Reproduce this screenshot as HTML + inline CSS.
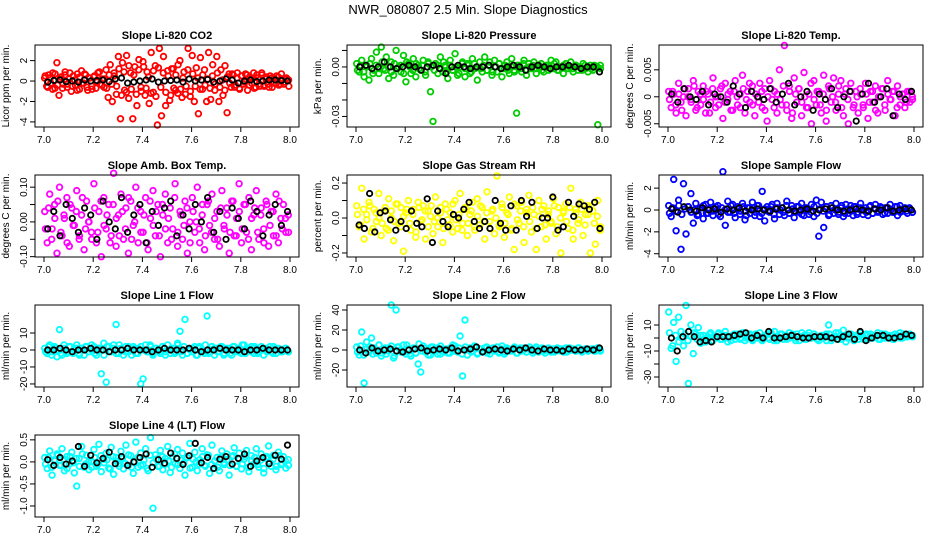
<!DOCTYPE html>
<html><head><meta charset="utf-8">
<style>
html,body{margin:0;padding:0;background:#fff;}
svg{display:block;font-family:"Liberation Sans",Arial,sans-serif;}
</style></head>
<body>
<svg id="chart" width="936" height="540" viewBox="0 0 936 540">
<text x="468" y="14" text-anchor="middle" font-size="13">NWR_080807  2.5 Min. Slope Diagnostics</text>
</svg>
<script>
// ---- data ----
const xTicks = [7.0, 7.2, 7.4, 7.6, 7.8, 8.0];
const xTickLabels = ["7.0","7.2","7.4","7.6","7.8","8.0"];
const xMin = 7.0, xMax = 8.0;

const co2Vals = [0.3,-0.5,0.6,-0.2,0.8,-0.7,1.8,-1.4,0.4,-0.3,0.9,-0.6,0.2,-1.0,0.5,-0.4,0.7,-0.8,1.0,-0.2,0.6,-0.9,0.3,-0.5,0.4,-0.7,0.8,-0.3,0.2,-0.6,
1.1,-1.6,1.6,-2.0,0.5,-1.3,2.4,-3.7,1.8,-0.9,2.5,-1.7,0.8,-3.7,1.4,-2.4,2.1,-0.6,1.9,-1.4,0.9,-2.2,2.8,-1.1,1.5,-4.3,3.2,-3.4,2.4,-2.4,1.0,-1.9,1.2,-0.7,0.6,-1.2,2.0,-1.6,0.9,-0.5,3.2,-1.5,2.5,-2.0,1.3,-3.2,2.3,-0.8,1.1,-2.0,
2.8,-1.8,1.6,-0.9,2.4,-2.0,1.1,-1.4,1.5,-3.1,0.7,-0.6,0.6,-0.4,0.8,-0.7,0.5,-0.3,0.7,-0.9,0.4,-0.2,0.8,-0.6,0.3,-0.5,0.6,-0.4,0.2,-0.3,0.5,-0.6,0.3,-0.2,0.4,-0.3,0.2,-0.1,0.3,0.1];
const co2Band = [0.5,-0.6,0.3,-0.8,0.7,-0.4,0.2,-0.7,0.6,-0.3,0.8,-0.5,0.1,-0.9,0.4,-0.2,0.7,-0.6,0.3,-0.8,0.5,-0.1,0.9,-0.4,0.2,-0.7,0.6,-0.3,0.8,-0.5,
1.2,-1.4,0.9,-1.1,1.5,-0.8,0.6,-1.3,1.1,-1.0,1.4,-0.7,0.4,-1.2,1.0,-1.5,1.3,-0.6,0.8,-1.1,0.5,-1.4,1.2,-0.9,1.6,-0.8,0.3,-1.3,1.1,-1.0,
0.7,-0.5,0.3,-0.8,0.6,-0.4,0.2,-0.7,0.5,-0.3,0.8,-0.6,0.1,-0.9,0.4,-0.2,0.7,-0.6,0.3,-0.8,0.5,-0.1,0.6,-0.4,0.2,-0.7,0.6,-0.3,0.8,-0.5,0.4,-0.6,0.3,-0.2,0.5,-0.4,0.7,-0.3,0.2,-0.5];
const co2Black = [-0.1,0.05,0.1,-0.05,0.0,-0.1,0.1,0.0,0.05,0.1,-0.05,0.2,0.3,-0.2,-0.1,0.0,0.1,0.2,-0.1,0.0,0.05,0.1,-0.1,0.2,0.0,0.1,0.15,-0.1,0.0,0.2,0.1,-0.2,0.0,0.1,-0.05,0.0,0.1,0.1,0.05,0.0];

const presVals = [0.002,-0.003,0.004,-0.006,0.001,-0.008,0.005,-0.002,0.009,-0.004,0.012,-0.001,0.006,-0.007,0.003,-0.005,0.010,0.000,-0.003,0.007,-0.009,0.002,-0.004,0.005,-0.006,0.001,-0.002,0.004,-0.005,0.003,-0.015,-0.033,0.002,-0.004,0.006,-0.003,0.001,-0.007,0.004,-0.002,0.008,-0.005,0.000,0.003,-0.006,0.002,-0.004,0.005,-0.001,-0.008,0.003,-0.003,0.006,-0.002,0.001,-0.005,0.004,-0.003,0.002,-0.006,-0.001,0.003,-0.004,0.005,-0.002,-0.028,0.001,-0.003,0.004,-0.005,0.002,-0.001,0.003,-0.004,0.000,0.002,-0.003,0.001,-0.002,0.004,-0.001,0.003,-0.002,0.000,-0.004,0.002,-0.001,0.003,-0.003,0.001,-0.002,0.000,0.002,-0.001,-0.003,0.001,-0.002,0.000,-0.035,0.001];
const presBand = [-0.002,0.001,-0.003,0.000,0.002,-0.004,0.001,-0.001,0.003,-0.002,0.000,-0.003,0.002,-0.001,0.001,-0.004,0.003,0.000,-0.002,0.002,-0.001,0.001,-0.003,0.002,0.000,-0.002,0.001,-0.001,0.003,-0.003,0.001,-0.002,0.000,-0.004,0.002,-0.001,0.001,-0.003,0.002,0.000,-0.001,0.001,-0.002,0.003,-0.003,0.000,0.002,-0.001,0.001,-0.002,0.000,-0.003,0.001,-0.001,0.002,-0.002,0.000,0.001,-0.001,0.001,-0.002,0.000,0.001,-0.001,0.002,-0.002,0.000,0.001,-0.001,0.000,-0.001,0.001,0.000,-0.002,0.001,0.000,-0.001,0.001,0.000,-0.001];
const presBlack = [0.000,0.001,-0.001,0.000,0.003,0.000,-0.001,0.000,0.001,0.000,-0.002,0.000,0.001,-0.001,-0.004,0.000,0.001,0.000,-0.001,0.000,0.000,0.001,0.000,-0.001,0.000,0.001,0.000,-0.002,0.000,0.001,0.000,-0.001,0.000,0.000,0.001,0.000,-0.001,0.000,0.000,-0.003];

const tempVals = [0.0010,-0.0020,0.0005,-0.0030,0.0025,-0.0010,0.0000,-0.0035,0.0015,-0.0005,0.0030,-0.0025,0.0010,-0.0015,0.0020,-0.0030,0.0005,-0.0010,0.0035,-0.0020,0.0000,0.0015,-0.0040,0.0025,-0.0005,0.0010,-0.0025,0.0030,-0.0015,0.0005,0.0040,-0.0030,0.0010,-0.0010,0.0020,-0.0035,0.0000,0.0025,-0.0020,0.0015,-0.0045,0.0030,-0.0005,0.0010,-0.0030,0.0050,-0.0015,0.0095,-0.0025,0.0020,-0.0040,0.0035,-0.0010,0.0015,-0.0035,0.0045,-0.0020,0.0005,-0.0050,0.0030,-0.0015,0.0010,-0.0030,0.0040,-0.0045,0.0020,-0.0010,0.0035,-0.0025,0.0005,0.0030,-0.0035,0.0015,-0.0050,0.0025,-0.0020,0.0010,-0.0030,0.0005,-0.0015,0.0025,-0.0040,0.0010,-0.0010,0.0020,-0.0030,0.0000,0.0015,-0.0025,0.0030,-0.0005,0.0010,-0.0035,0.0020,-0.0015,0.0005,-0.0020,0.0010,-0.0010,0.0000];
const tempBand = [-0.0005,0.0010,-0.0015,0.0005,-0.0025,0.0015,0.0000,-0.0010,0.0020,-0.0020,0.0005,-0.0005,0.0010,-0.0030,0.0015,0.0000,-0.0015,0.0020,-0.0010,0.0005,-0.0025,0.0010,0.0000,-0.0020,0.0015,-0.0005,0.0025,-0.0015,0.0005,-0.0010,0.0010,-0.0025,0.0000,0.0015,-0.0020,0.0005,-0.0005,0.0020,-0.0015,0.0010,-0.0030,0.0005,0.0015,-0.0010,0.0000,-0.0020,0.0025,-0.0005,0.0010,-0.0015,0.0005,-0.0025,0.0015,0.0000,-0.0010,0.0020,-0.0020,0.0005,-0.0005,0.0010,-0.0015,0.0000,0.0015,-0.0020,0.0005,-0.0010,0.0010,-0.0025,0.0000,0.0015,-0.0015,0.0005,-0.0005,0.0010,-0.0020,0.0000,0.0005,-0.0010,0.0010,-0.0005];
const tempBlack = [0.0005,-0.0010,0.0015,0.0000,-0.0005,0.0010,-0.0015,0.0005,0.0000,-0.0010,0.0020,0.0005,-0.0020,0.0010,0.0000,-0.0005,0.0015,-0.0010,0.0005,0.0025,-0.0015,0.0000,0.0010,-0.0025,0.0005,-0.0005,0.0015,-0.0020,0.0000,0.0010,-0.0045,0.0005,0.0025,-0.0010,0.0000,0.0015,-0.0035,0.0005,-0.0005,0.0010];

const ambVals = [0.03,-0.06,0.08,-0.02,0.05,-0.09,0.10,-0.04,0.01,0.07,-0.07,0.04,-0.01,0.09,-0.05,0.02,-0.08,0.06,0.00,-0.03,0.11,-0.06,0.03,-0.10,0.07,-0.02,0.05,-0.04,0.14,-0.07,0.02,0.08,-0.05,0.04,-0.09,0.06,-0.01,0.10,-0.06,0.03,-0.03,0.07,-0.08,0.01,0.09,-0.04,0.05,-0.10,0.02,0.08,-0.06,0.04,-0.02,0.11,-0.07,0.03,-0.05,0.06,-0.09,0.00,0.07,-0.03,0.10,-0.06,0.02,-0.08,0.05,-0.01,0.08,-0.05,0.03,-0.07,0.09,-0.02,0.04,-0.09,0.06,-0.04,0.01,0.11,-0.06,0.05,-0.03,0.07,-0.08,0.02,0.09,-0.05,0.04,-0.02,0.06,-0.07,0.03,-0.04,0.08,-0.06,0.01,0.05,-0.03,0.02];
const ambBand = [-0.02,0.04,-0.05,0.01,0.06,-0.03,0.02,-0.06,0.05,-0.01,0.03,-0.04,0.07,-0.02,0.00,-0.05,0.04,-0.03,0.06,-0.01,0.02,-0.06,0.05,0.01,-0.04,0.03,-0.02,0.07,-0.05,0.00,0.04,-0.03,0.02,-0.06,0.06,-0.01,0.03,-0.04,0.05,-0.02,0.01,-0.05,0.07,-0.03,0.02,-0.01,0.04,-0.06,0.03,0.00,-0.02,0.05,-0.04,0.06,-0.03,0.01,-0.05,0.04,-0.01,0.02,-0.03,0.06,-0.04,0.03,-0.02,0.05,-0.05,0.01,0.04,-0.03,0.02,-0.06,0.05,-0.01,0.03,-0.04,0.06,-0.02,0.01,-0.03];
const ambBlack = [-0.02,0.03,-0.04,0.05,0.01,-0.03,0.04,0.02,-0.05,0.06,0.00,-0.02,0.07,-0.03,0.02,0.05,-0.06,0.03,-0.01,0.04,0.06,-0.04,0.02,-0.02,0.05,0.00,0.07,-0.03,0.03,-0.05,0.04,0.01,-0.02,0.06,0.03,-0.04,0.02,0.05,-0.01,0.03];

const rhVals = [0.07,-0.05,0.17,-0.12,0.02,0.09,-0.08,0.05,-0.02,0.14,-0.10,0.04,-0.06,0.11,0.00,-0.13,0.08,-0.03,0.06,-0.19,0.03,0.10,-0.07,0.05,-0.11,0.09,-0.02,0.07,-0.12,0.04,0.01,-0.09,0.12,-0.05,0.06,-0.14,0.08,-0.01,0.03,-0.08,0.10,-0.06,0.14,-0.03,0.05,-0.10,0.02,0.09,-0.07,0.11,-0.04,0.06,-0.12,0.15,-0.02,0.04,-0.09,0.24,-0.05,0.08,-0.11,0.03,0.12,-0.06,-0.18,0.07,-0.03,0.09,-0.14,0.05,0.13,-0.08,0.02,-0.18,0.10,-0.05,0.07,-0.12,0.04,-0.02,0.11,-0.09,0.06,-0.20,0.03,0.08,-0.06,0.17,-0.12,0.05,-0.03,0.09,-0.10,0.02,0.07,-0.20,0.04,-0.15,0.10,-0.07];
const rhBand = [0.02,-0.04,0.05,-0.01,0.07,-0.06,0.03,0.00,-0.03,0.06,-0.07,0.04,-0.02,0.08,-0.05,0.01,0.05,-0.03,0.02,-0.08,0.06,-0.01,0.04,-0.05,0.07,-0.02,0.00,0.03,-0.06,0.05,-0.04,0.08,-0.01,0.02,-0.07,0.06,-0.03,0.04,-0.05,0.01,0.07,-0.02,0.03,-0.06,0.05,0.00,-0.04,0.06,-0.03,0.02,-0.07,0.08,-0.01,0.04,-0.05,0.03,-0.02,0.06,-0.06,0.01,0.05,-0.04,0.02,-0.03,0.07,-0.05,0.00,0.04,-0.02,0.06,-0.07,0.03,-0.01,0.05,-0.04,0.02,0.07,-0.03,0.01,-0.05];
const rhBlack = [-0.04,-0.06,0.14,-0.08,0.03,0.04,-0.01,-0.07,-0.02,-0.06,0.04,-0.03,-0.05,0.11,-0.14,0.04,-0.02,-0.05,0.02,0.00,0.05,0.09,-0.02,-0.06,-0.02,-0.06,0.10,-0.03,-0.07,0.07,-0.07,0.10,0.01,0.09,-0.06,0.00,0.00,0.12,-0.07,-0.05,0.09,0.01,0.08,0.07,0.05,0.09,-0.06];

const sfVals = [0.4,-0.6,2.8,-1.9,0.9,-3.6,2.4,-2.2,0.3,1.5,-1.2,0.6,-0.4,0.2,-0.8,0.5,-0.3,0.7,-0.5,0.1,0.4,-0.6,3.5,-1.4,0.8,-0.2,0.5,-0.7,0.3,-0.4,0.6,-0.9,0.2,-0.3,0.7,-0.5,0.4,-0.6,1.7,-1.0,0.3,-0.2,0.5,-0.8,0.6,-0.4,0.2,-0.5,0.8,-0.3,0.4,-0.7,0.3,-0.2,0.6,-0.5,0.2,-0.4,0.5,-0.6,0.9,-2.4,0.7,-1.6,0.3,-0.5,0.4,-0.3,0.6,-0.4,0.2,-0.6,0.5,-0.3,0.4,-0.5,0.3,-0.2,0.6,-0.4,0.2,-0.5,0.4,-0.3,0.5,-0.2,0.3,-0.4,0.2,-0.3,0.5,-0.2,0.3,-0.5,0.4,-0.1,0.2,-0.3,0.1,-0.2];
const sfBand = [-0.3,0.2,-0.1,0.4,-0.4,0.1,0.3,-0.2,0.0,-0.5,0.2,0.4,-0.3,0.1,-0.1,0.3,-0.4,0.2,0.0,-0.2,0.4,-0.3,0.1,-0.1,0.3,-0.5,0.2,0.0,-0.2,0.4,-0.3,0.1,-0.1,0.3,-0.4,0.2,0.0,-0.2,0.4,-0.3,0.1,-0.1,0.3,-0.4,0.2,0.0,-0.2,0.3,-0.3,0.1,-0.1,0.3,-0.4,0.2,0.0,-0.2,0.4,-0.3,0.1,-0.1,0.3,-0.4,0.2,0.0,-0.2,0.3,-0.3,0.1,-0.1,0.2,-0.3,0.2,0.0,-0.2,0.3,-0.2,0.1,-0.1,0.2,-0.2];
const sfBlack = [0.1,-0.2,0.3,0.0,-0.1,0.2,0.0,0.1,-0.2,0.1,0.0,0.2,-0.1,0.0,0.1,0.0,-0.1,0.1,0.2,0.0,-0.1,0.0,0.1,-0.1,0.0,0.1,0.2,0.0,-0.1,0.0,0.1,0.0,-0.1,0.1,0.0,0.2,-0.1,0.0,0.1,0.0];

const l1Vals = [1,-2,3,-1,2,-4,12,-3,1,-2,2,-1,0,3,-2,1,-3,2,-1,0,2,-3,1,-14,4,-19,2,-1,3,15,-2,1,-3,2,-1,0,2,-2,1,-20,-17,3,-1,2,-3,1,0,-2,2,-1,3,-2,1,-1,4,11,-3,18,-2,1,-1,2,-3,1,0,-2,20,-1,2,-3,1,-1,2,-2,0,1,-3,2,-1,1,-2,3,-1,0,2,-2,1,-1,2,-3,1,0,-1,2,-2,1,-1,0,1,-1];
const l1Band = [-1,2,-3,1,0,-2,3,-1,2,-2,1,-3,0,2,-1,3,-2,1,0,-3,2,-1,1,-2,3,0,-1,2,-3,1,-2,2,0,-1,3,-2,1,-1,2,-3,0,1,-2,3,-1,2,-2,0,1,-3,2,-1,3,-2,0,1,-1,2,-3,1,-2,2,0,-1,3,-2,1,-1,2,-2,0,1,-1,2,-2,1,0,-1,1,-1];
const l1Black = [0,0,1,0,-1,0,0,1,0,0,-1,0,0,1,0,0,0,-1,0,1,0,0,0,1,0,-1,0,0,1,0,0,0,-1,0,0,1,0,0,0,0];

const l2Vals = [3,-5,18,-33,8,-2,12,2,-3,5,-6,1,-4,2,45,-8,40,3,-2,5,-4,1,-6,2,-3,-14,-22,4,-2,1,-5,3,-1,2,-4,1,0,-3,2,-1,4,-2,14,-26,30,-5,2,-1,3,-4,1,-2,2,-3,1,0,-1,3,-2,1,-4,2,-1,0,2,-3,1,-1,2,-2,1,0,-1,3,-2,1,-1,0,2,-2,1,-1,0,1,-2,2,-1,0,1,-1,2,-1,0,1,-1,0,1,-1,2,0];
const l2Band = [-2,4,-5,1,3,-4,0,5,-3,2,-1,4,-6,3,0,-2,5,-4,1,-3,6,-1,2,-5,3,0,-4,4,-2,1,-3,5,-1,2,-4,3,0,-2,4,-3,1,-1,3,-4,2,0,-3,4,-2,1,-1,3,-3,2,0,-2,3,-3,1,-1,2,-3,1,0,-2,2,-1,1,-2,2,0,-1,2,-2,1,-1,1,-1,2,-1];
const l2Black = [0,-3,2,-1,0,1,-1,-2,0,1,2,-1,0,1,0,2,-1,0,1,3,-2,0,1,0,-1,1,0,2,0,-1,1,0,0,-1,1,0,0,1,0,2];

const l3Vals = [20,-8,12,-18,16,5,-6,25,-35,10,-12,3,8,-4,2,-3,1,4,-2,0,3,-1,2,5,-3,1,2,-1,3,0,4,-2,1,3,-1,2,0,4,-2,1,3,-1,2,5,-2,0,3,1,-1,4,2,0,3,-2,1,2,-1,4,0,3,1,-2,2,0,3,10,-2,1,4,-1,2,6,-3,1,3,0,2,-1,4,1,2,-1,3,0,2,4,-1,1,3,0,2,-1,3,1,4,0,2,1,3,2];
const l3Band = [4,-6,2,-3,0,3,-2,1,4,-1,2,-3,0,3,-2,1,4,-1,2,0,-2,3,1,-1,4,0,2,-2,3,1,-1,2,0,4,-2,1,3,-1,2,0,3,-2,1,4,-1,2,0,3,-1,1,2,-2,3,0,1,4,-1,2,0,3,-2,1,2,-1,3,0,2,1,-1,3,0,2,1,-1,2,0,3,1,2,1];
const l3Black = [0,-10,1,5,1,-3,-2,-3,1,1,1,2,3,4,0,2,0,5,0,0,1,2,1,0,0,1,1,1,0,-1,1,3,-1,5,-2,0,2,2,0,0,1,3,2];

const ltVals = [0.10,-0.15,0.25,-0.30,0.05,0.18,-0.08,0.30,-0.20,0.12,-0.05,0.22,-0.25,-0.55,0.08,0.35,-0.12,0.15,-0.18,0.02,0.28,-0.10,0.40,-0.22,0.06,0.20,-0.14,0.33,-0.28,0.10,-0.04,0.24,-0.16,0.38,-0.08,0.14,-0.26,0.45,-0.12,0.20,-0.06,0.30,-0.20,0.55,-1.05,0.16,-0.10,0.26,-0.18,0.08,0.35,-0.24,0.12,-0.04,0.28,-0.15,0.20,-0.30,0.10,0.42,-0.12,0.22,-0.20,0.05,0.30,-0.08,0.16,-0.26,0.38,-0.14,0.10,-0.20,0.25,-0.06,0.18,-0.30,0.12,0.32,-0.10,0.20,-0.16,0.06,0.26,-0.22,0.14,-0.05,0.30,-0.12,0.18,-0.25,0.08,0.36,-0.10,0.15,-0.18,0.22,-0.06,0.12,-0.14,0.05];
const ltBand = [-0.05,0.10,-0.12,0.02,0.15,-0.08,0.06,-0.15,0.12,-0.02,0.08,-0.10,0.18,-0.05,0.00,-0.12,0.10,-0.06,0.14,-0.02,0.05,-0.16,0.12,0.02,-0.10,0.08,-0.04,0.16,-0.12,0.00,0.10,-0.08,0.04,-0.15,0.15,-0.02,0.06,-0.10,0.12,-0.05,0.02,-0.12,0.18,-0.06,0.04,-0.02,0.10,-0.14,0.06,0.00,-0.05,0.12,-0.10,0.15,-0.06,0.02,-0.12,0.10,-0.02,0.04,-0.08,0.14,-0.10,0.06,-0.04,0.12,-0.12,0.02,0.10,-0.06,0.04,-0.15,0.12,-0.02,0.06,-0.10,0.14,-0.04,0.02,-0.08];
const ltBlack = [0.05,-0.08,0.10,-0.05,0.02,0.35,-0.10,0.15,-0.02,0.08,0.22,-0.04,0.12,-0.08,0.00,0.10,0.18,-0.12,0.05,-0.03,0.20,0.08,-0.06,0.14,0.42,-0.02,0.10,-0.15,0.06,0.12,-0.05,0.08,0.18,-0.10,0.02,0.10,-0.04,0.15,0.06,0.38];

// ---- layout ----
const colL = [35, 347, 659], boxW = 264, inset = 9;
const rowT = [45, 175, 305, 435], boxH = 82;
const panels = [
 {name:"co2",title:"Slope Li-820 CO2",ytitle:"Licor ppm per min.",col:0,row:0,ymin:-4.5,ymax:3.53,ticks:[-4,-2,0,2],labels:["-4","-2","0","2"],color:"#ff0000",vals:co2Vals,band:co2Band,blk:co2Black},
 {name:"pressure",title:"Slope Li-820 Pressure",ytitle:"kPa per min.",col:1,row:0,ymin:-0.0364,ymax:0.0133,ticks:[-0.03,-0.02,-0.01,0,0.01],labels:["-0.03","","","0.00",""],color:"#00cc00",vals:presVals,band:presBand,blk:presBlack},
 {name:"temp",title:"Slope Li-820 Temp.",ytitle:"degrees C per min.",col:2,row:0,ymin:-0.0056,ymax:0.0096,ticks:[-0.005,0,0.005],labels:["-0.005","0","0.005"],color:"#ff00ff",vals:tempVals,band:tempBand,blk:tempBlack},
 {name:"amb-box",title:"Slope Amb. Box Temp.",ytitle:"degrees C per min.",col:0,row:1,ymin:-0.101,ymax:0.135,ticks:[-0.1,-0.05,0,0.05,0.1],labels:["-0.10","","0.00","","0.10"],color:"#ff00ff",vals:ambVals,band:ambBand,blk:ambBlack},
 {name:"rh",title:"Slope Gas Stream RH",ytitle:"percent per min.",col:1,row:1,ymin:-0.223,ymax:0.246,ticks:[-0.2,-0.1,0,0.1,0.2],labels:["-0.2","","0.0","","0.2"],color:"#ffff00",vals:rhVals,band:rhBand,blk:rhBlack},
 {name:"sample-flow",title:"Slope Sample Flow",ytitle:"ml/min per min.",col:2,row:1,ymin:-4.3,ymax:3.2,ticks:[-4,-2,0,2],labels:["-4","-2","0","2"],color:"#0000ff",vals:sfVals,band:sfBand,blk:sfBlack},
 {name:"line1",title:"Slope Line 1 Flow",ytitle:"ml/min per min.",col:0,row:2,ymin:-21.8,ymax:26.5,ticks:[-20,-10,0,10],labels:["-20","-10","0","10"],color:"#00ffff",vals:l1Vals,band:l1Band,blk:l1Black},
 {name:"line2",title:"Slope Line 2 Flow",ytitle:"ml/min per min.",col:1,row:2,ymin:-37,ymax:45,ticks:[-20,0,20,40],labels:["-20","0","20","40"],color:"#00ffff",vals:l2Vals,band:l2Band,blk:l2Black},
 {name:"line3",title:"Slope Line 3 Flow",ytitle:"ml/min per min.",col:2,row:2,ymin:-37.7,ymax:25.4,ticks:[-30,-20,-10,0,10],labels:["-30","","-10","","10"],color:"#00ffff",vals:l3Vals,band:l3Band,blk:l3Black},
 {name:"line4",title:"Slope Line 4 (LT) Flow",ytitle:"ml/min per min.",col:0,row:3,ymin:-1.25,ymax:0.61,ticks:[-1,-0.5,0,0.5],labels:["-1.0","-0.5","0.0","0.5"],color:"#00ffff",vals:ltVals,band:ltBand,blk:ltBlack}
];

const NS = "http://www.w3.org/2000/svg";
const svg = document.getElementById('chart');
function mk(tag, attrs, parent){ const e=document.createElementNS(NS,tag); for(const k in attrs) e.setAttribute(k,attrs[k]); (parent||svg).appendChild(e); return e; }

panels.forEach(p=>{
  const L = colL[p.col], T = rowT[p.row];
  const xs = v => L + inset + (v - xMin)/(xMax - xMin)*(boxW - 2*inset);
  const ys = v => T + boxH - (v - p.ymin)/(p.ymax - p.ymin)*boxH;
  const g = mk('g',{});
  
  
  const t = mk('text',{x:L+boxW/2,y:T-6,'text-anchor':'middle','font-size':'11','font-weight':'bold'},g);
  t.textContent = p.title;
  
  
  const yt = mk('text',{x:0,y:0,'text-anchor':'middle','font-size':'10',transform:`translate(${L-26},${T+boxH/2}) rotate(-90)`},g);
  yt.textContent = p.ytitle;
  
  
  const pts = mk('g',{fill:'none',stroke:p.color,'stroke-width':'1.8'},g);
  
  
  const n = p.vals.length;
  p.vals.forEach((v,i)=>{
    const c = mk('circle',{cx:xs(xMin + (i+0.3)/n*(xMax-xMin)).toFixed(1),cy:ys(v).toFixed(1),r:'2.8'},pts);
    
    
  });
  const nb = p.band.length;
  p.band.forEach((v,i)=>{
    const c = mk('circle',{cx:xs(xMin + (i+0.5)/nb*(xMax-xMin)).toFixed(1),cy:ys(v).toFixed(1),r:'2.8'},pts);
    
    
  });
  const bp = mk('g',{fill:'none',stroke:'#000','stroke-width':'1.8'},g);
  
  
  const m = p.blk.length;
  p.blk.forEach((v,i)=>{
    const c = mk('circle',{cx:xs(xMin + (i+0.6)/m*(xMax-xMin)).toFixed(1),cy:ys(v).toFixed(1),r:'2.7'},bp);
    
    
  });
  const box = mk('rect',{x:L,y:T,width:boxW,height:boxH,fill:'none',stroke:'#000','stroke-width':'1'},g);
  
  
  const xa = mk('g',{},g);
  
  
  xTicks.forEach((v,i)=>{
    mk('line',{x1:xs(v),x2:xs(v),y1:T+boxH,y2:T+boxH+5,stroke:'#000'},xa);
    const lt = mk('text',{x:xs(v),y:T+boxH+16,'text-anchor':'middle','font-size':'10'},xa);
    lt.textContent = xTickLabels[i];
  });
  const ya = mk('g',{},g);
  
  
  p.ticks.forEach((v,i)=>{
    mk('line',{x1:L-5,x2:L,y1:ys(v),y2:ys(v),stroke:'#000'},ya);
    if(p.labels[i]){
      const lt = mk('text',{x:0,y:0,'text-anchor':'middle','font-size':'10',transform:`translate(${L-8},${ys(v)}) rotate(-90)`},ya);
      lt.textContent = p.labels[i];
    }
  });
});
</script>
</body></html>
